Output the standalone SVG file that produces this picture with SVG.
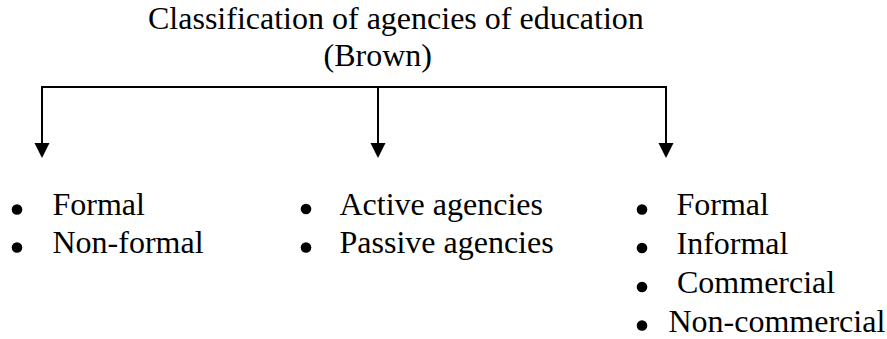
<svg xmlns="http://www.w3.org/2000/svg" width="887" height="339" viewBox="0 0 887 339">
  <style>
    text { font-family: "Liberation Serif", "Times New Roman", serif; font-size: 32px; fill: #000; }
    .conn { fill: none; stroke: #000; stroke-width: 2; }
    .bullet { fill: #000; }
  </style>
  <defs>
    <marker id="arrow" viewBox="0 0 16 15" refX="8" refY="15" markerWidth="16" markerHeight="15" markerUnits="userSpaceOnUse" orient="auto-start-reverse">
      <path d="M0,0 L16,0 L8,15 Z" fill="#000"/>
    </marker>
  </defs>
  <rect width="887" height="339" fill="#fff"/>
  <g id="title">
    <text x="148" y="29">Classification of agencies of education</text>
    <text x="323.5" y="66">(Brown)</text>
  </g>
  <g id="connectors">
    <path class="conn" d="M42,87 L666,87"/>
    <path class="conn" d="M42,86 L42,143"/>
    <path class="conn" d="M378,87 L378,143"/>
    <path class="conn" d="M666,86 L666,143"/>
    <path d="M34.5,143 L49.5,143 L42,158 Z" fill="#000"/>
    <path d="M370.5,143 L385.5,143 L378,158 Z" fill="#000"/>
    <path d="M658.5,143 L673.5,143 L666,158 Z" fill="#000"/>
  </g>
  <g id="node-left">
    <circle class="bullet" cx="17" cy="209.5" r="5.3"/>
    <text x="52.5" y="215">Formal</text>
    <circle class="bullet" cx="17" cy="247.5" r="5.3"/>
    <text x="52.5" y="253">Non-formal</text>
  </g>
  <g id="node-middle">
    <circle class="bullet" cx="306" cy="209" r="5.3"/>
    <text x="339.5" y="215">Active agencies</text>
    <circle class="bullet" cx="306" cy="247.5" r="5.3"/>
    <text x="339.5" y="253">Passive agencies</text>
  </g>
  <g id="node-right">
    <circle class="bullet" cx="642" cy="209.5" r="5.3"/>
    <text x="676.5" y="215">Formal</text>
    <circle class="bullet" cx="642" cy="248" r="5.3"/>
    <text x="676.5" y="254">Informal</text>
    <circle class="bullet" cx="642" cy="287" r="5.3"/>
    <text x="677" y="293">Commercial</text>
    <circle class="bullet" cx="642" cy="325.5" r="5.3"/>
    <text x="668.5" y="332">Non-commercial</text>
  </g>
</svg>
